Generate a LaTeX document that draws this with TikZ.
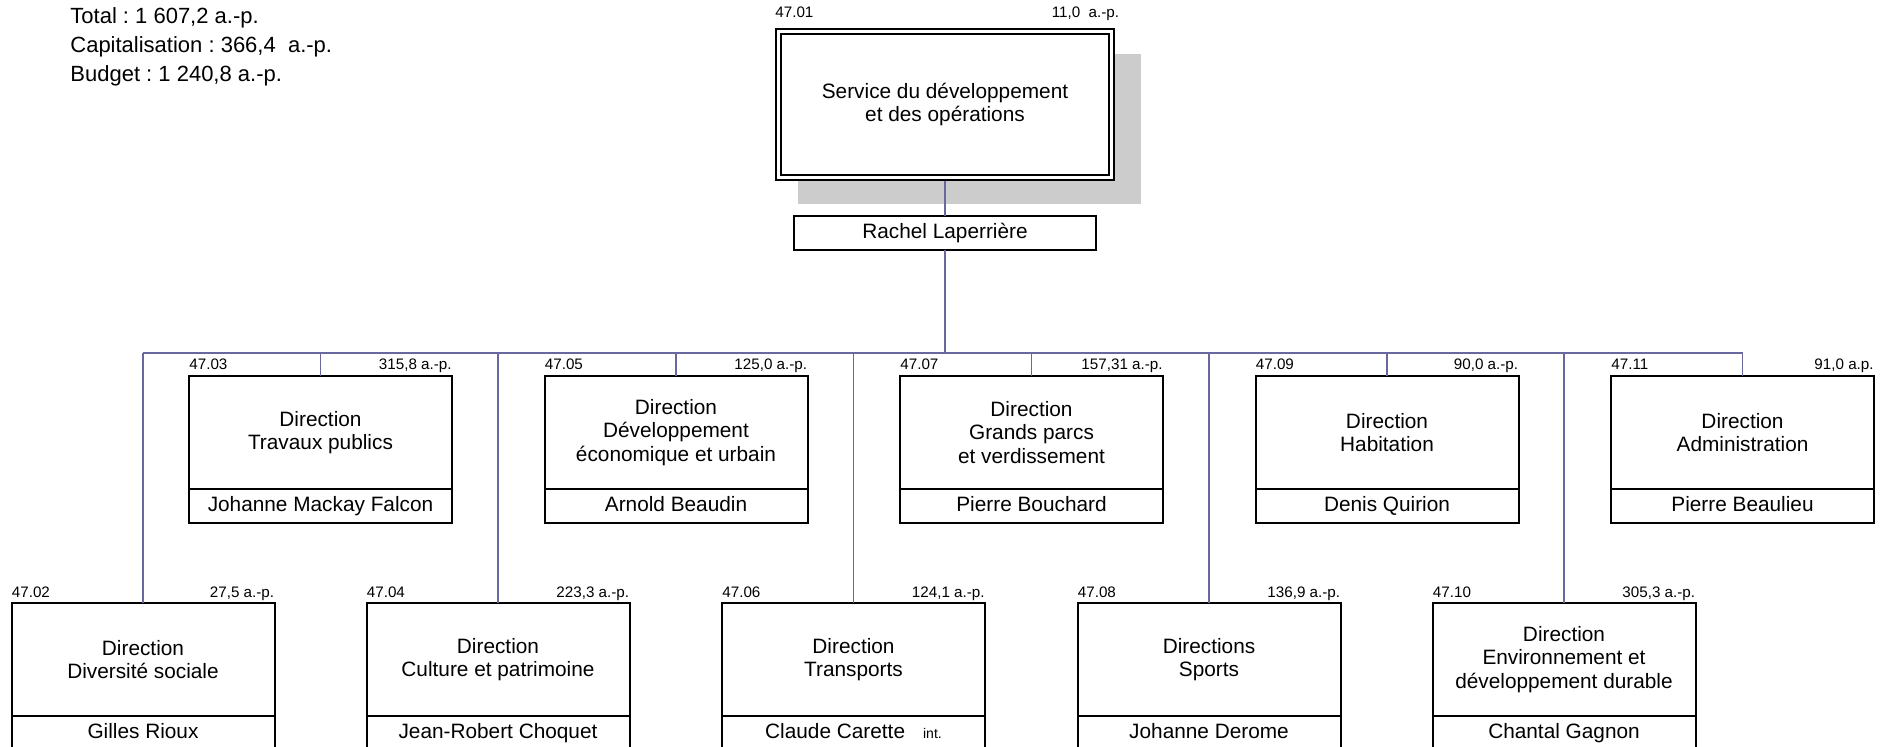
\documentclass[tikz,border=0pt]{standalone}
\usepackage{fontspec}
\setmainfont{Liberation Sans}
\usetikzlibrary{positioning,shadows}
\definecolor{linkcol}{RGB}{104,104,158}
\definecolor{shadecol}{RGB}{204,204,204}
\frenchspacing
\begin{document}
\begin{tikzpicture}[x=0.5pt,y=-0.5pt]

      \tikzset{unit/.style={draw, line width=1pt, fill=white, outer sep=0pt, inner sep=2pt, minimum width=131.5pt, minimum height=56.5pt, align=center, font=\fontsize{10.4}{11.8}\selectfont},
               head/.style={unit, minimum height=17pt, text height=7.6pt, text depth=2.2pt},
               code/.style={inner sep=0pt, font=\fontsize{7.6}{9}\selectfont},
               link/.style={draw=linkcol, line width=0.75pt}}
      \useasboundingbox (0,0) rectangle (1894,747);
%% Totals
      	\node[anchor=north west, align=left, inner sep=0pt, font=\fontsize{11}{14.5}\selectfont] (tot) at (70,7) {Total : 1 607,2 a.-p.\\Capitalisation : 366,4 \ a.-p.\\Budget : 1 240,8 a.-p.};
%% Service
      	\node[unit, double, double distance=1.5pt, minimum width=166.5pt, minimum height=73pt, drop shadow={shadow xshift=12pt, shadow yshift=-12pt, shadow scale=1.03, fill=shadecol, opacity=1}] (sdo) at (945,104.5) {Service du développement\\et des opérations};
      	\node[code, anchor=base west] (sdoc) at ([xshift=-1.75pt, yshift=6.75pt]sdo.north west) {47.01};
      	\node[code, anchor=base east] (sdoa) at ([xshift=4pt, yshift=6.75pt]sdo.north east) {11,0 \ a.-p.};
      	\node[head, minimum width=151pt] (rl) at (945,233.5) {Rachel Laperrière};
%% Directions, upper row
      	\node[unit] (d03) at (320.5,432.5) {Direction\\Travaux publics};
      	\node[head, below=0pt of d03] (d03n) {Johanne Mackay Falcon};
      	\node[unit] (d05) at (676,432.5) {Direction\\Développement\\économique et urbain};
      	\node[head, below=0pt of d05] (d05n) {Arnold Beaudin};
      	\node[unit] (d07) at (1031.5,432.5) {Direction\\Grands parcs\\et verdissement};
      	\node[head, below=0pt of d07] (d07n) {Pierre Bouchard};
      	\node[unit] (d09) at (1387,432.5) {Direction\\Habitation};
      	\node[head, below=0pt of d09] (d09n) {Denis Quirion};
      	\node[unit] (d11) at (1742.5,432.5) {Direction\\Administration};
      	\node[head, below=0pt of d11] (d11n) {Pierre Beaulieu};
%% Directions, lower row
      	\node[unit] (d02) at (143,659.5) {Direction\\Diversité sociale};
      	\node[head, below=0pt of d02] (d02n) {Gilles Rioux};
      	\node[unit] (d04) at (498,659.5) {Direction\\Culture et patrimoine};
      	\node[head, below=0pt of d04] (d04n) {Jean-Robert Choquet};
      	\node[unit] (d06) at (853.5,659.5) {Direction\\Transports};
      	\node[head, below=0pt of d06] (d06n) {Claude Carette\hspace{9pt}{\fontsize{7}{8}\selectfont int.}};
      	\node[unit] (d08) at (1209,659.5) {Directions\\Sports};
      	\node[head, below=0pt of d08] (d08n) {Johanne Derome};
      	\node[unit] (d10) at (1564,659.5) {Direction\\Environnement et\\développement durable};
      	\node[head, below=0pt of d10] (d10n) {Chantal Gagnon};
%% Codes and staff
      	\node[code, anchor=base west] (d03c) at ([yshift=3pt]d03.north west) {47.03};
      	\node[code, anchor=base east] (d03a) at ([yshift=3pt]d03.north east) {315,8 a.-p.};
      	\node[code, anchor=base west] (d05c) at ([yshift=3pt]d05.north west) {47.05};
      	\node[code, anchor=base east] (d05a) at ([yshift=3pt]d05.north east) {125,0 a.-p.};
      	\node[code, anchor=base west] (d07c) at ([yshift=3pt]d07.north west) {47.07};
      	\node[code, anchor=base east] (d07a) at ([yshift=3pt]d07.north east) {157,31 a.-p.};
      	\node[code, anchor=base west] (d09c) at ([yshift=3pt]d09.north west) {47.09};
      	\node[code, anchor=base east] (d09a) at ([yshift=3pt]d09.north east) {90,0 a.-p.};
      	\node[code, anchor=base west] (d11c) at ([yshift=3pt]d11.north west) {47.11};
      	\node[code, anchor=base east] (d11a) at ([yshift=3pt]d11.north east) {91,0 a.p.};
      	\node[code, anchor=base west] (d02c) at ([yshift=2.75pt]d02.north west) {47.02};
      	\node[code, anchor=base east] (d02a) at ([yshift=2.75pt]d02.north east) {27,5 a.-p.};
      	\node[code, anchor=base west] (d04c) at ([yshift=2.75pt]d04.north west) {47.04};
      	\node[code, anchor=base east] (d04a) at ([yshift=2.75pt]d04.north east) {223,3 a.-p.};
      	\node[code, anchor=base west] (d06c) at ([yshift=2.75pt]d06.north west) {47.06};
      	\node[code, anchor=base east] (d06a) at ([yshift=2.75pt]d06.north east) {124,1 a.-p.};
      	\node[code, anchor=base west] (d08c) at ([yshift=2.75pt]d08.north west) {47.08};
      	\node[code, anchor=base east] (d08a) at ([yshift=2.75pt]d08.north east) {136,9 a.-p.};
      	\node[code, anchor=base west] (d10c) at ([yshift=2.75pt]d10.north west) {47.10};
      	\node[code, anchor=base east] (d10a) at ([yshift=2.75pt]d10.north east) {305,3 a.-p.};
%Links
      	\coordinate (busl) at (143,353);
      	\coordinate (busr) at (1742.5,353);
		\draw[link] ([yshift=-1.75pt]sdo.south) -- (rl.north);
		\draw[link] (rl.south) -- (rl.south |- busl);
		\draw[link] (busl) -- (busr);
		\draw[link] (d03.north) -- (d03.north |- busl);
		\draw[link] (d05.north) -- (d05.north |- busl);
		\draw[link] (d07.north) -- (d07.north |- busl);
		\draw[link] (d09.north) -- (d09.north |- busl);
		\draw[link] (d11.north) -- (d11.north |- busl);
		\draw[link] (d02.north) -- (d02.north |- busl);
		\draw[link] (d04.north) -- (d04.north |- busl);
		\draw[link] (d06.north) -- (d06.north |- busl);
		\draw[link] (d08.north) -- (d08.north |- busl);
		\draw[link] (d10.north) -- (d10.north |- busl);

\end{tikzpicture}
\end{document}
